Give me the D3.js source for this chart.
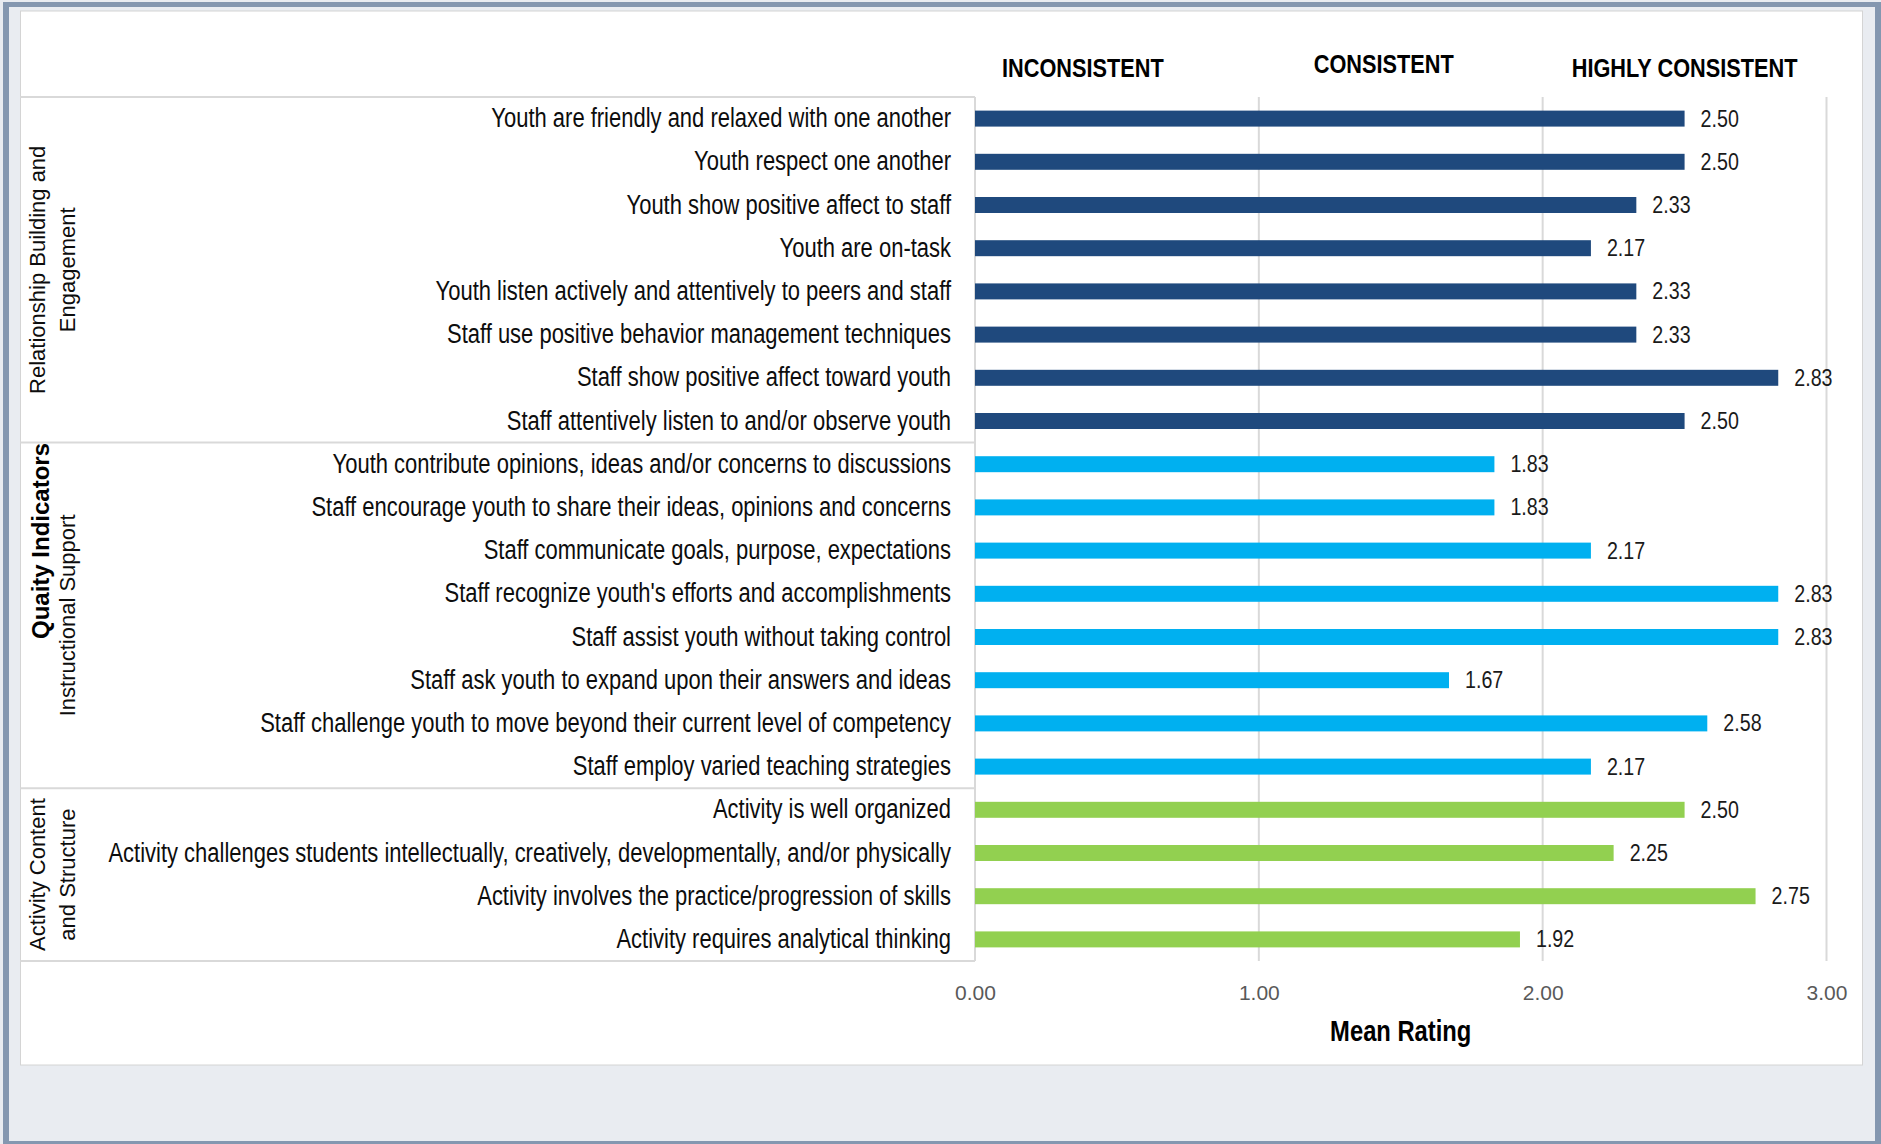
<!DOCTYPE html>
<html>
<head>
<meta charset="utf-8">
<script src="https://cdn.jsdelivr.net/npm/d3@7"></script>
<style>
    body { margin: 0; background: #e9ecf1; }
    svg { display: block; }
</style>
</head>
<body>
<svg id="chart" width="1881" height="1144"></svg>
<script>
// ---- data ----
const relationshipLabels = [
    "Youth are friendly and relaxed with one another",
    "Youth respect one another",
    "Youth show positive affect to staff",
    "Youth are on-task",
    "Youth listen actively and attentively to peers and staff",
    "Staff use positive behavior management techniques",
    "Staff show positive affect toward youth",
    "Staff attentively listen to and/or observe youth"
];
const relationshipValues = [2.50, 2.50, 2.33, 2.17, 2.33, 2.33, 2.83, 2.50];

const instructionalLabels = [
    "Youth contribute opinions, ideas and/or concerns to discussions",
    "Staff encourage youth to share their ideas, opinions and concerns",
    "Staff communicate goals, purpose, expectations",
    "Staff recognize youth's efforts and accomplishments",
    "Staff assist youth without taking control",
    "Staff ask youth to expand upon their answers and ideas",
    "Staff challenge youth to move beyond their current level of competency",
    "Staff employ varied teaching strategies"
];
const instructionalValues = [1.83, 1.83, 2.17, 2.83, 2.83, 1.67, 2.58, 2.17];

const activityLabels = [
    "Activity is well organized",
    "Activity challenges students intellectually, creatively, developmentally, and/or physically",
    "Activity involves the practice/progression of skills",
    "Activity requires analytical thinking"
];
const activityValues = [2.50, 2.25, 2.75, 1.92];

const groupTitles = [["Relationship Building and", "Engagement"], ["Instructional Support"], ["Activity Content", "and Structure"]];
const groupColors = ["#1f497d", "#00b0f0", "#92d050"];
const xTicks = [0, 1, 2, 3];
const ratingLabels = ["INCONSISTENT", "CONSISTENT", "HIGHLY CONSISTENT"];
const ratingPositions = [0.38, 1.44, 2.5];

// build rows
const groups = [
    { labels: relationshipLabels, values: relationshipValues },
    { labels: instructionalLabels, values: instructionalValues },
    { labels: activityLabels, values: activityValues }
];
const rows = [];
groups.forEach(function(g, gi) {
    g.labels.forEach(function(l, i) { rows.push({ label: l, value: g.values[i], group: gi }); });
});

// narrow font: use Liberation Sans Narrow if present, otherwise squeeze Liberation Sans
function hasFont(name) {
    const c = document.createElement("canvas").getContext("2d");
    const s = "abcdefghijklmnopqrstuvwxyz0123456789";
    c.font = "40px monospace";
    const w0 = c.measureText(s).width;
    c.font = "40px '" + name + "', monospace";
    return c.measureText(s).width !== w0;
}
const narrowOk = hasFont("Liberation Sans Narrow");
const narrowFamily = narrowOk ? "'Liberation Sans Narrow', 'Arial Narrow', sans-serif" : "'Liberation Sans', Arial, sans-serif";
const sx = narrowOk ? 1 : 0.82;

function narrowText(sel, x, y, str, size, weight, anchor, fill) {
    return sel.append("text")
        .attr("transform", "translate(" + x + "," + y + ") scale(" + sx + ",1)")
        .attr("text-anchor", anchor)
        .style("font-family", narrowFamily)
        .style("font-size", size + "px")
        .style("font-weight", weight)
        .attr("fill", fill)
        .text(str);
}

const svg = d3.select("#chart");
const margin = { top: 97, right: 54.5, bottom: 183, left: 975 };
const width = 1881 - margin.left - margin.right;
const height = 1144 - margin.top - margin.bottom;

// background + frame
svg.append("rect").attr("width", 1881).attr("height", 1144).attr("fill", "#e9ecf1");
const frame = "#8497b0";
svg.append("rect").attr("x", 3).attr("y", 2).attr("width", 1878).attr("height", 5).attr("fill", frame);
svg.append("rect").attr("x", 3).attr("y", 2).attr("width", 6).attr("height", 1142).attr("fill", frame);
svg.append("rect").attr("x", 1875).attr("y", 2).attr("width", 6).attr("height", 1142).attr("fill", frame);
svg.append("rect").attr("x", 3).attr("y", 1141).attr("width", 1878).attr("height", 3).attr("fill", frame);
svg.append("rect").attr("x", 20.5).attr("y", 11).attr("width", 1842).attr("height", 1054)
    .attr("fill", "#fff").attr("stroke", "#d4d4d4").attr("stroke-width", 1);

const x = d3.scaleLinear().domain([0, 3]).range([margin.left, margin.left + width]);
const y = d3.scaleBand().domain(rows.map(function(d) { return d.label; }))
    .range([margin.top, margin.top + height])
    .paddingInner(0.63).paddingOuter(0.315);
const gap = (y.step() - y.bandwidth()) / 2;

// gridlines
svg.append("g").selectAll("line")
    .data(xTicks)
    .join("line")
    .attr("x1", function(d) { return x(d); })
    .attr("x2", function(d) { return x(d); })
    .attr("y1", margin.top)
    .attr("y2", margin.top + height)
    .attr("stroke", "#d9d9d9")
    .attr("stroke-width", 2);

// table lines at group boundaries
const bounds = [];
let start = 0;
groups.forEach(function(g, gi) {
    const first = rows[start].label, last = rows[start + g.labels.length - 1].label;
    bounds.push({ gi: gi, top: y(first) - gap, bottom: y(last) + y.bandwidth() + gap });
    start += g.labels.length;
});
const lineYs = bounds.map(function(b) { return b.top; }).concat([bounds[bounds.length - 1].bottom]);
svg.append("g").selectAll("line")
    .data(lineYs)
    .join("line")
    .attr("x1", 20.5)
    .attr("x2", x(0))
    .attr("y1", function(d) { return d; })
    .attr("y2", function(d) { return d; })
    .attr("stroke", "#d9d9d9")
    .attr("stroke-width", 2);

// bars
svg.append("g").selectAll("rect")
    .data(rows)
    .join("rect")
    .attr("x", x(0))
    .attr("y", function(d) { return y(d.label); })
    .attr("width", function(d) { return x(d.value) - x(0); })
    .attr("height", y.bandwidth())
    .attr("fill", function(d) { return groupColors[d.group]; });

// category labels and value labels
const labels = svg.append("g");
rows.forEach(function(d) {
    const cy = y(d.label) + y.bandwidth() / 2;
    narrowText(labels, 951, cy + 8.5, d.label, 26.8, "normal", "end", "#0d0d0d");
    narrowText(labels, x(d.value) + 16, cy + 8, d.value.toFixed(2), 24, "normal", "start", "#1a1a1a");
});

// group titles (rotated)
bounds.forEach(function(b) {
    const cy = (b.top + b.bottom) / 2;
    const lines = groupTitles[b.gi];
    const xs = lines.length === 2 ? [45, 75] : [75];
    lines.forEach(function(t, i) {
        svg.append("text")
            .attr("transform", "translate(" + xs[i] + "," + cy + ") rotate(-90)")
            .attr("text-anchor", "middle")
            .style("font-family", "'Liberation Sans', Arial, sans-serif")
            .style("font-size", "22px")
            .attr("fill", "#0d0d0d")
            .text(t);
    });
});
svg.append("text")
    .attr("transform", "translate(49," + (margin.top + height / 2 + 12) + ") rotate(-90)")
    .attr("text-anchor", "middle")
    .style("font-family", "'Liberation Sans', Arial, sans-serif")
    .style("font-size", "24px")
    .style("font-weight", "bold")
    .attr("fill", "#000")
    .text("Quaity Indicators");

// x axis tick labels
const axis = svg.append("g")
    .attr("transform", "translate(0," + (margin.top + height) + ")")
    .call(d3.axisBottom(x).tickValues(xTicks).tickFormat(d3.format(".2f")).tickSize(0).tickPadding(24));
axis.select(".domain").remove();
axis.selectAll("text")
    .style("font-family", "'Liberation Sans', Arial, sans-serif")
    .style("font-size", "21px")
    .attr("fill", "#595959");

// axis title
narrowText(svg, x(1.5), 1041, "Mean Rating", 29, "bold", "middle", "#000");

// rating headers
ratingLabels.forEach(function(t, i) {
    narrowText(svg, x(ratingPositions[i]), i === 1 ? 73 : 77, t, 26.5, "bold", "middle", "#000");
});
</script>
</body>
</html>
